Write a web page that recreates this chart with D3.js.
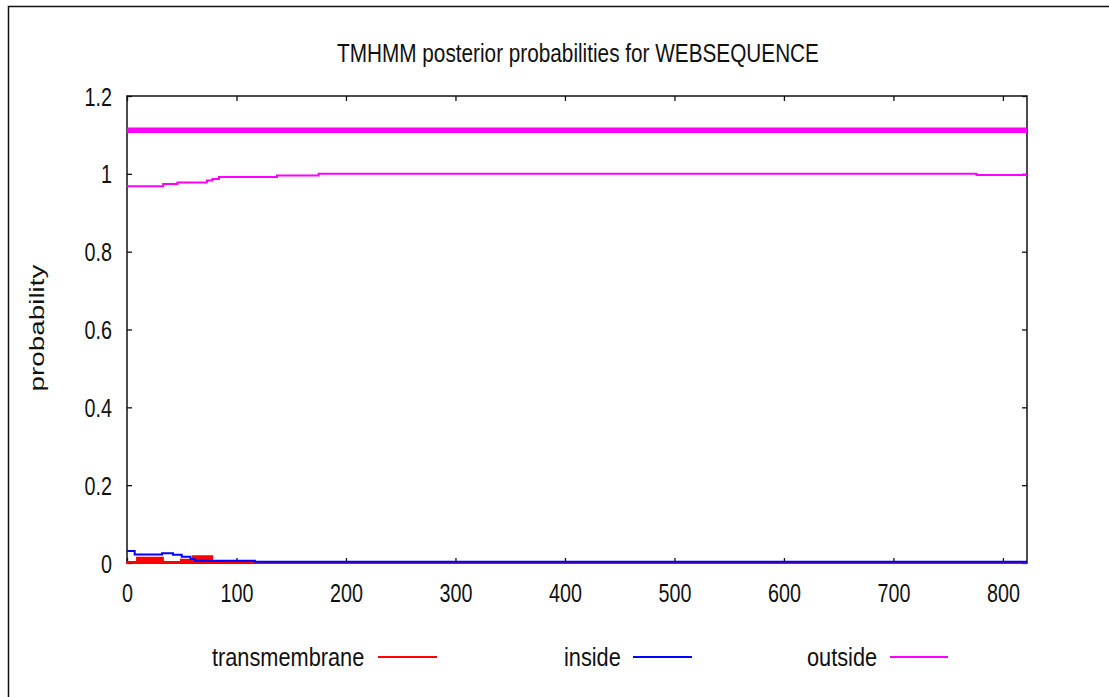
<!DOCTYPE html>
<html>
<head>
<meta charset="utf-8">
<script src="https://cdn.jsdelivr.net/npm/d3@7"></script>
<style>
  html, body { margin: 0; padding: 0; background: #fff; }
  svg text { font-family: "Liberation Sans", Arial, Helvetica, sans-serif; fill: #111; }
</style>
</head>
<body>
<svg id="chart" width="1109" height="697"></svg>
<script>
// Sequence length and axis ticks
const seqLength = 822;
const xTicks = [0, 100, 200, 300, 400, 500, 600, 700, 800];
const yTicks = [0, 0.2, 0.4, 0.6, 0.8, 1, 1.2];
const yTickLabels = ["0", "0.2", "0.4", "0.6", "0.8", "1", "1.2"];

// Posterior probabilities, stepwise (position where each level starts)
const outsidePos = [0, 33, 46, 73, 78, 84, 137, 175, 776, 822];
const outsideVal = [0.968, 0.974, 0.978, 0.983, 0.987, 0.992, 0.996, 1.0, 0.997, 0.997];

const insidePos = [0, 7, 32, 42, 50, 58, 62, 117, 822];
const insideVal = [0.031, 0.022, 0.025, 0.021, 0.016, 0.010, 0.006, 0.003, 0.003];

const tmPos = [0, 9, 33, 49, 60, 78, 117, 822];
const tmVal = [0.003, 0.014, 0.003, 0.009, 0.018, 0.003, 0.0, 0.0];

// Predicted topology: whole sequence outside
const topologyStart = [1];
const topologyEnd = [822];
const topologyLevel = 1.112;

const legendNames = ["transmembrane", "inside", "outside"];
const legendColors = ["#ff0000", "#0000ff", "#ff00ff"];

const svg = d3.select("#chart");
const margin = { left: 127, top: 96, right: 1027, bottom: 563 };

const x = d3.scaleLinear().domain([0, seqLength]).range([margin.left, margin.right]);
const y = d3.scaleLinear().domain([0, 1.2]).range([margin.bottom, margin.top]);

const SX = 0.79;  // narrow glyph look of the tick labels
const SXT = 0.83; // title
const SXL = 0.87; // legend

// outer frame of the figure
svg.append("path")
  .attr("d", "M8.5,697 V6.5 H1109")
  .attr("fill", "none").attr("stroke", "#111").attr("stroke-width", 1.5);

// title
svg.append("text")
  .attr("transform", `translate(578,62) scale(${SXT},1)`)
  .attr("text-anchor", "middle")
  .style("font-size", "25px")
  .text("TMHMM posterior probabilities for WEBSEQUENCE");

// y axis title
svg.append("text")
  .attr("transform", "translate(44,328) rotate(-90)")
  .attr("text-anchor", "middle")
  .attr("textLength", 127)
  .attr("lengthAdjust", "spacingAndGlyphs")
  .style("font-size", "21px")
  .text("probability");

// plot frame
svg.append("rect")
  .attr("x", margin.left).attr("y", margin.top)
  .attr("width", margin.right - margin.left)
  .attr("height", margin.bottom - margin.top)
  .attr("fill", "none").attr("stroke", "#111").attr("stroke-width", 1.5);

// axes with inward ticks on all four sides
const styleAxis = g => {
  g.select(".domain").remove();
  g.selectAll(".tick line").attr("stroke", "#111").attr("stroke-width", 1.3);
};

svg.append("g")
  .attr("transform", `translate(0,${margin.bottom})`)
  .call(d3.axisBottom(x).tickValues(xTicks).tickSize(-5).tickFormat(d3.format("d")))
  .call(styleAxis)
  .call(g => g.selectAll(".tick text")
    .attr("y", null).attr("dy", null)
    .attr("transform", `translate(0,39) scale(${SX},1)`)
    .attr("fill", "#111")
    .style("font-size", "25px")
    .style("font-family", "Liberation Sans, Arial, sans-serif"));

svg.append("g")
  .attr("transform", `translate(0,${margin.top})`)
  .call(d3.axisTop(x).tickValues(xTicks).tickSize(-5).tickFormat(""))
  .call(styleAxis);

svg.append("g")
  .attr("transform", `translate(${margin.left},0)`)
  .call(d3.axisLeft(y).tickValues(yTicks).tickSize(-5)
    .tickFormat((d, i) => yTickLabels[i]))
  .call(styleAxis)
  .call(g => g.selectAll(".tick text")
    .attr("x", null).attr("dy", null)
    .attr("transform", `translate(-15,9) scale(${SX},1)`)
    .attr("fill", "#111")
    .style("font-size", "25px")
    .style("font-family", "Liberation Sans, Arial, sans-serif"));

svg.append("g")
  .attr("transform", `translate(${margin.right},0)`)
  .call(d3.axisRight(y).tickValues(yTicks).tickSize(-5).tickFormat(""))
  .call(styleAxis);

const toSteps = (pos, val) => pos.map((p, i) => [p, val[i]]);

// transmembrane: filled impulses
svg.append("path")
  .datum(toSteps(tmPos, tmVal))
  .attr("fill", "#ff0000")
  .attr("stroke", "#ff0000")
  .attr("stroke-width", 1.5)
  .attr("d", d3.area().curve(d3.curveStepAfter)
    .x(d => x(d[0])).y0(y(0)).y1(d => y(d[1])));

// inside
svg.append("path")
  .datum(toSteps(insidePos, insideVal))
  .attr("fill", "none")
  .attr("stroke", "#0000ff")
  .attr("stroke-width", 2)
  .attr("d", d3.line().curve(d3.curveStepAfter).x(d => x(d[0])).y(d => y(d[1])));

// outside
svg.append("path")
  .datum(toSteps(outsidePos, outsideVal))
  .attr("fill", "none")
  .attr("stroke", "#ff00ff")
  .attr("stroke-width", 2)
  .attr("d", d3.line().curve(d3.curveStepAfter).x(d => x(d[0])).y(d => y(d[1])));

// predicted topology bar
svg.selectAll("line.topo")
  .data(topologyStart.map((s, i) => [s, topologyEnd[i]]))
  .join("line")
  .attr("class", "topo")
  .attr("x1", d => x(d[0] - 1)).attr("x2", d => x(d[1]))
  .attr("y1", y(topologyLevel)).attr("y2", y(topologyLevel))
  .attr("stroke", "#ff00ff").attr("stroke-width", 5.5);

// legend
const legendTextStart = [212, 564, 807];
const legendLine = [[378, 437], [633, 692], [890, 948]];
const legend = svg.append("g");
legendNames.forEach((name, i) => {
  legend.append("text")
    .attr("transform", `translate(${legendTextStart[i]},666) scale(${SXL},1)`)
    .attr("text-anchor", "start")
    .style("font-size", "25px")
    .text(name);
  legend.append("line")
    .attr("x1", legendLine[i][0]).attr("x2", legendLine[i][1])
    .attr("y1", 657).attr("y2", 657)
    .attr("stroke", legendColors[i]).attr("stroke-width", 2);
});
</script>
</body>
</html>
